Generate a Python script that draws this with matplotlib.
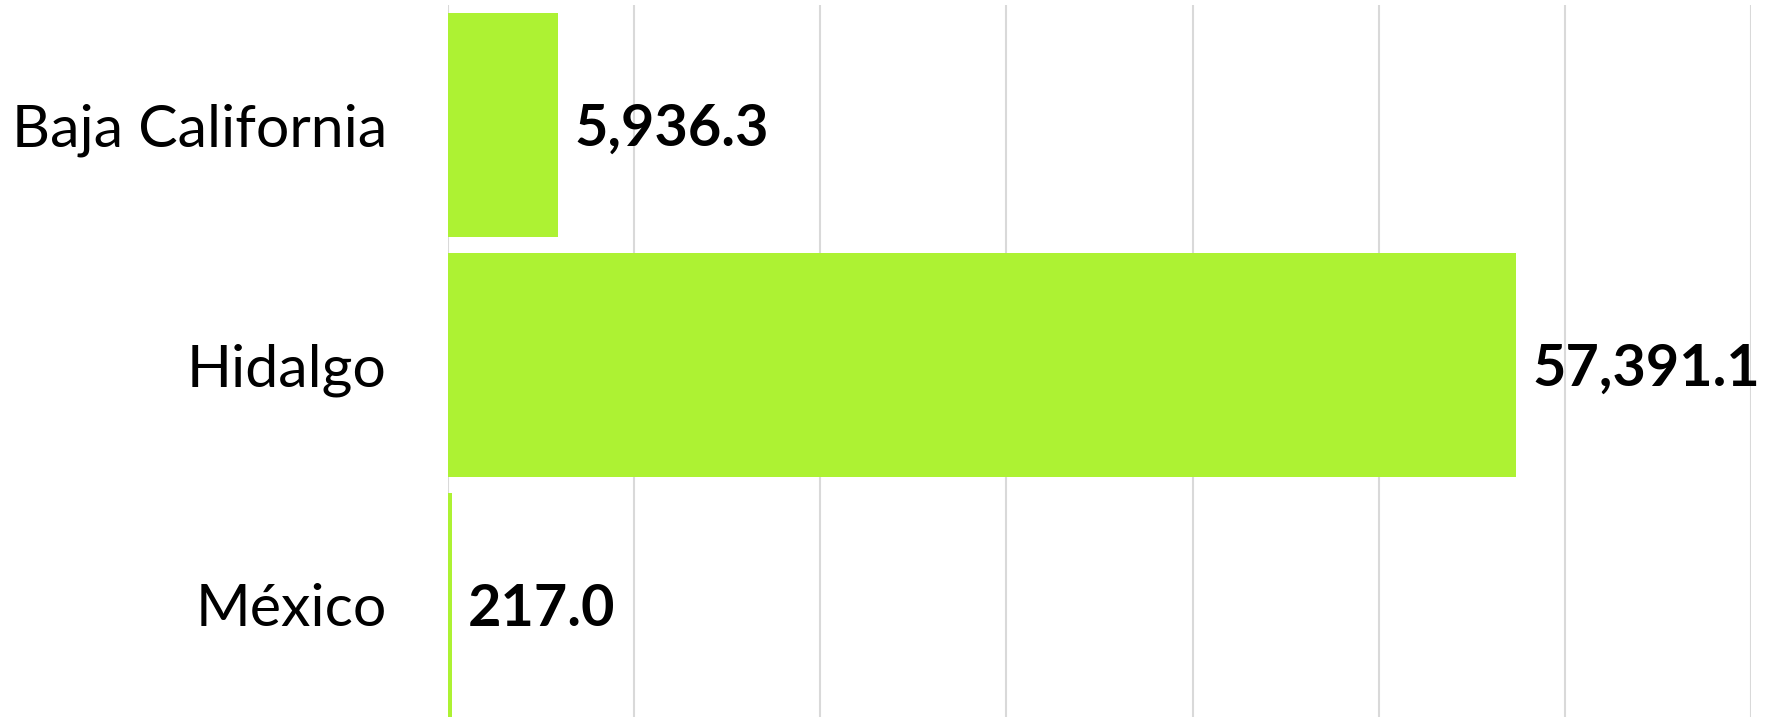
import matplotlib.pyplot as plt

states = ['Baja California', 'Hidalgo', 'México']
values = [5936.3, 57391.1, 217.0]
value_labels = ['5,936.3', '57,391.1', '217.0']

plt.rcParams['font.family'] = ['Lato', 'DejaVu Sans']

fig = plt.figure(figsize=(17.75, 7.17), dpi=100)
# axes slightly taller than the figure, the bottom gets cut off like in the original
ax = fig.add_axes([448 / 1775, -8 / 717, (1751 - 448) / 1775, 720 / 717])

ypos = list(range(len(states)))
ax.barh(ypos, values, height=0.93, color='#adf233', zorder=2)
ax.set_ylim(len(states) - 0.5, -0.5)
ax.set_xlim(0, 70000)

ax.set_xticks(range(0, 70001, 10000))
ax.grid(axis='x', color='#d9d9d9', linewidth=1.5, zorder=0)
ax.tick_params(axis='x', length=0, labelbottom=False)
ax.tick_params(axis='y', length=0, pad=44)
ax.set_yticks(ypos)
ax.set_yticklabels(states, fontsize=42.5)
for s in ax.spines.values():
    s.set_visible(False)

for y, v, lab in zip(ypos, values, value_labels):
    ax.annotate(lab, (v, y), xytext=(11.5, -3), textcoords='offset points',
                va='center', ha='left', fontsize=41.5, fontweight='bold')

fig.savefig('out.png', dpi=100)
